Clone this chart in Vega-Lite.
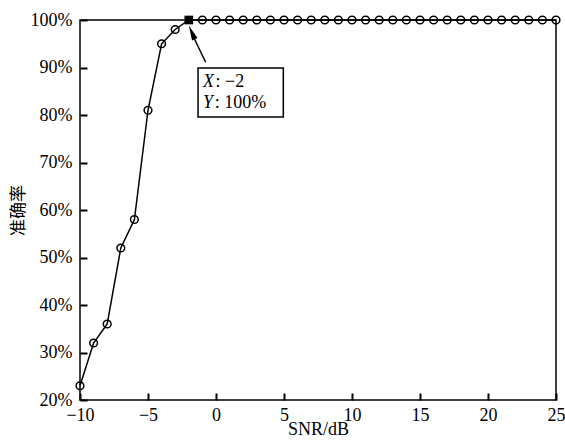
{
  "$schema": "https://vega.github.io/schema/vega-lite/v6.json",
  "width": 476,
  "height": 380,
  "autosize": {"type": "none"},
  "padding": {"left": 80, "top": 20, "right": 9, "bottom": 47},
  "background": "white",
  "config": {
    "font": "Liberation Serif",
    "view": {"stroke": "black", "strokeWidth": 1.5},
    "axis": {
      "grid": false,
      "domain": false,
      "ticks": true,
      "zindex": 1,
      "offset": -7,
      "labelFlush": false,
      "labelOverlap": false,
      "tickColor": "#000000",
      "tickOpacity": 1,
      "tickSize": 7,
      "tickWidth": 2,
      "labelFont": "Liberation Serif",
      "labelFontSize": 18,
      "labelColor": "black",
      "titleFont": "Liberation Serif",
      "titleFontSize": 18,
      "titleFontWeight": "normal",
      "titleColor": "black"
    }
  },
  "datasets": {
    "main": [
      {"snr": -10, "acc": 23}, {"snr": -9, "acc": 32}, {"snr": -8, "acc": 36},
      {"snr": -7, "acc": 52}, {"snr": -6, "acc": 58}, {"snr": -5, "acc": 81},
      {"snr": -4, "acc": 95}, {"snr": -3, "acc": 98}, {"snr": -2, "acc": 100},
      {"snr": -1, "acc": 100}, {"snr": 0, "acc": 100}, {"snr": 1, "acc": 100},
      {"snr": 2, "acc": 100}, {"snr": 3, "acc": 100}, {"snr": 4, "acc": 100},
      {"snr": 5, "acc": 100}, {"snr": 6, "acc": 100}, {"snr": 7, "acc": 100},
      {"snr": 8, "acc": 100}, {"snr": 9, "acc": 100}, {"snr": 10, "acc": 100},
      {"snr": 11, "acc": 100}, {"snr": 12, "acc": 100}, {"snr": 13, "acc": 100},
      {"snr": 14, "acc": 100}, {"snr": 15, "acc": 100}, {"snr": 16, "acc": 100},
      {"snr": 17, "acc": 100}, {"snr": 18, "acc": 100}, {"snr": 19, "acc": 100},
      {"snr": 20, "acc": 100}, {"snr": 21, "acc": 100}, {"snr": 22, "acc": 100},
      {"snr": 23, "acc": 100}, {"snr": 24, "acc": 100}, {"snr": 25, "acc": 100}
    ],
    "marked": [{"snr": -2, "acc": 100}],
    "box": [{"x1": -1.32, "x2": 4.95, "y1": 79.6, "y2": 89.9}],
    "arrow": [{"x1": -0.76, "y1": 91.1, "x2": -1.75, "y2": 97.0}],
    "head": [{"x": -1.78, "y": 97.4}],
    "italic": [{"x": -0.96, "y": 85.9, "t": "X"}, {"x": -0.96, "y": 81.5, "t": "Y"}],
    "plain": [{"x": -0.03, "y": 85.9, "t": ": −2"}, {"x": -0.1, "y": 81.5, "t": ": 100%"}]
  },
  "encoding": {
    "x": {"type": "quantitative", "scale": {"domain": [-10, 25], "nice": false, "zero": false},
      "axis": {"values": [-10, -5, 0, 5, 10, 15, 20, 25], "title": "SNR/dB", "labelPadding": 6, "titlePadding": -4}},
    "y": {"type": "quantitative", "scale": {"domain": [20, 100], "nice": false, "zero": false},
      "axis": {"values": [20, 30, 40, 50, 60, 70, 80, 90, 100], "labelExpr": "datum.value + '%'", "title": "准确率",
        "titleFont": "Noto Sans CJK SC", "titleFontSize": 17, "labelPadding": 8, "titlePadding": 3}}
  },
  "layer": [
    {
      "data": {"name": "main"},
      "mark": {"type": "line", "color": "black", "strokeWidth": 1.5, "clip": false},
      "encoding": {
        "x": {"field": "snr", "type": "quantitative"},
        "y": {"field": "acc", "type": "quantitative"}
      }
    },
    {
      "data": {"name": "main"},
      "transform": [{"filter": "datum.snr != -2"}],
      "mark": {"type": "point", "shape": "circle", "filled": false, "color": "black", "strokeWidth": 1.5, "size": 60, "clip": false, "opacity": 1},
      "encoding": {
        "x": {"field": "snr", "type": "quantitative"},
        "y": {"field": "acc", "type": "quantitative"}
      }
    },
    {
      "data": {"name": "marked"},
      "mark": {"type": "point", "shape": "square", "filled": true, "color": "black", "size": 75, "opacity": 1},
      "encoding": {
        "x": {"field": "snr", "type": "quantitative"},
        "y": {"field": "acc", "type": "quantitative"}
      }
    },
    {
      "data": {"name": "arrow"},
      "mark": {"type": "rule", "color": "black", "strokeWidth": 1.5},
      "encoding": {
        "x": {"field": "x1", "type": "quantitative"},
        "y": {"field": "y1", "type": "quantitative"},
        "x2": {"field": "x2"},
        "y2": {"field": "y2"}
      }
    },
    {
      "data": {"name": "head"},
      "mark": {"type": "point", "shape": "M0,-1L0.4,1L-0.4,1Z", "filled": true, "color": "black", "size": 225, "angle": 336.6, "opacity": 1},
      "encoding": {
        "x": {"field": "x", "type": "quantitative"},
        "y": {"field": "y", "type": "quantitative"}
      }
    },
    {
      "data": {"name": "box"},
      "mark": {"type": "rect", "fill": "white", "stroke": "black", "strokeWidth": 1.5},
      "encoding": {
        "x": {"field": "x1", "type": "quantitative"},
        "x2": {"field": "x2"},
        "y": {"field": "y1", "type": "quantitative"},
        "y2": {"field": "y2"}
      }
    },
    {
      "data": {"name": "italic"},
      "mark": {"type": "text", "align": "left", "baseline": "alphabetic", "font": "Liberation Serif", "fontStyle": "italic", "fontSize": 18, "color": "black"},
      "encoding": {
        "x": {"field": "x", "type": "quantitative"},
        "y": {"field": "y", "type": "quantitative"},
        "text": {"field": "t"}
      }
    },
    {
      "data": {"name": "plain"},
      "mark": {"type": "text", "align": "left", "baseline": "alphabetic", "font": "Liberation Serif", "fontSize": 18, "color": "black"},
      "encoding": {
        "x": {"field": "x", "type": "quantitative"},
        "y": {"field": "y", "type": "quantitative"},
        "text": {"field": "t"}
      }
    }
  ]
}
